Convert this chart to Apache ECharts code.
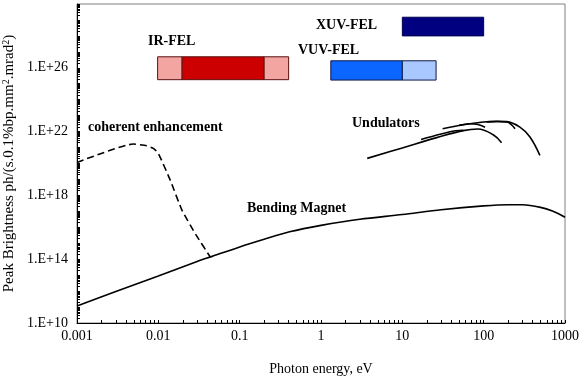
<!DOCTYPE html>
<html>
<head>
<meta charset="utf-8">
<script src="https://cdn.jsdelivr.net/npm/echarts@6/dist/echarts.min.js"></script>
<style>
html,body{margin:0;padding:0;background:#fff;}
#chart{width:579px;height:376px;}
</style>
</head>
<body>
<div id="chart"></div>
<script>
// ---- Data ----
// Bending magnet curve: photon energy (eV) / peak brightness
const bmEnergy = [0.001, 0.003, 0.01, 0.03, 0.045, 0.1, 0.2, 0.41, 1, 3, 10, 30, 100, 200, 300, 500, 700, 1000];
const bmBright = [1.17e11, 9.3e11, 8.9e12, 7.1e13, 1.45e14, 5.9e14, 1.78e15, 5.2e15, 1.32e16, 3.2e16, 6.3e16, 1.26e17, 2.2e17, 2.6e17, 2.57e17, 1.78e17, 1.05e17, 4.3e16];

// Coherent enhancement (dashed)
const cohEnergy = [0.001, 0.0049, 0.0072, 0.0087, 0.01, 0.014, 0.0195, 0.0292, 0.0434];
const cohBright = [1.17e20, 1.66e21, 1.29e21, 8.9e20, 4.3e20, 9.1e18, 1.2e17, 3.2e15, 1.41e14];

// Undulator tuning curves
const und1Energy = [3.7, 10, 26.5, 56, 85, 131, 166];
const und1Bright = [2.1e20, 9.5e20, 4.2e21, 1.15e22, 1.45e22, 6.3e21, 2.0e21];
const und2Energy = [31.3, 56, 99, 144, 192, 279, 371, 491];
const und2Bright = [1.51e22, 2.7e22, 4.0e22, 4.4e22, 4.2e22, 1.9e22, 4.6e21, 3.2e20];
const und3Energy = [50, 68, 85, 104];
const und3Bright = [2.45e22, 3.1e22, 2.75e22, 1.9e22];
const und4Energy = [110, 150, 192, 243];
const und4Bright = [4.1e22, 4.3e22, 4.0e22, 1.5e22];
const und5Energy = [17, 30, 45, 56];
const und5Bright = [3.2e21, 7.1e21, 1.12e22, 1.2e22];

// FEL ranges (boxes)
const segStart = [0.0098, 0.0196, 0.2, 1.32, 10, 10];
const segEnd   = [0.0196, 0.2, 0.4, 10, 26, 100];
const segLow   = [1.8e25, 1.8e25, 1.8e25, 1.7e25, 1.7e25, 1.0e28];
const segHigh  = [4.9e26, 4.9e26, 4.9e26, 2.75e26, 2.75e26, 1.48e29];
const segColor = ['#f3a6a1', '#cc0000', '#f3a6a1', '#0a66ff', '#a8c8ff', '#000080'];
const segBorder = ['#5a1010', '#5a1010', '#5a1010', '#101848', '#101848', '#000050'];

// Tick labels
const xLabelValues = [0.001, 0.01, 0.1, 1, 10, 100, 1000];
const xLabels = ['0.001', '0.01', '0.1', '1', '10', '100', '1000'];
const yLabelValues = [1e10, 1e14, 1e18, 1e22, 1e26, 1e30];
const yLabels = ['1.E+10', '1.E+14', '1.E+18', '1.E+22', '1.E+26', '1.E+30'];

// Annotation texts
const annTexts = ['IR-FEL', 'XUV-FEL', 'VUV-FEL', 'Undulators', 'coherent enhancement', 'Bending Magnet'];

// ---- Build ----
function zip(a, b) { return a.map((v, i) => [v, b[i]]); }
function minorTicks(lo, hi) {
  const out = [];
  for (let e = lo; e < hi; e++) {
    for (let k = 1; k <= 9; k++) out.push(+(k * Math.pow(10, e)).toPrecision(3));
  }
  out.push(Math.pow(10, hi));
  return out;
}
function labelFor(vals, labels) {
  return function (v) {
    for (let i = 0; i < vals.length; i++) {
      if (Math.abs(Math.log10(v) - Math.log10(vals[i])) < 1e-6) return labels[i];
    }
    return '';
  };
}

const SERIF = '"Liberation Serif", "Times New Roman", serif';
const chart = echarts.init(document.getElementById('chart'), null, { renderer: 'canvas' });

const lineStyleSolid = { color: '#000', width: 1.6 };

const option = {
  animation: false,
  backgroundColor: '#fff',
  grid: { left: 77, right: 14, top: 4, bottom: 53, containLabel: false, outerBoundsMode: 'none', show: true, borderColor: '#808080', borderWidth: 1, backgroundColor: 'transparent' },
  xAxis: {
    type: 'log', logBase: 10, min: 0.001, max: 1000,
    axisLine: { onZero: false, lineStyle: { color: '#000', width: 1 } },
    axisTick: { inside: true, length: 3, customValues: minorTicks(-3, 3), lineStyle: { color: '#000' } },
    axisLabel: { customValues: xLabelValues, formatter: labelFor(xLabelValues, xLabels), fontFamily: SERIF, fontSize: 14, color: '#000', margin: 6, hideOverlap: false },
    splitLine: { show: false },
    minorTick: { show: false },
    name: 'Photon energy, eV', nameLocation: 'middle', nameGap: 39,
    nameTextStyle: { fontFamily: SERIF, fontSize: 14, color: '#000' }
  },
  yAxis: {
    type: 'log', logBase: 10, min: 1e10, max: 1e30,
    axisLine: { onZero: false, lineStyle: { color: '#000', width: 1 } },
    axisTick: { inside: true, length: 3, customValues: minorTicks(10, 30), lineStyle: { color: '#000' } },
    axisLabel: { customValues: yLabelValues, formatter: labelFor(yLabelValues, yLabels), fontFamily: SERIF, fontSize: 14, color: '#000', margin: 9, hideOverlap: false },
    splitLine: { show: false },
    name: 'Peak Brightness ph/(s.0.1%bp.mm{sup|2}.mrad{sup|2})',
    nameLocation: 'middle', nameGap: 51,
    nameTextStyle: {
      fontFamily: SERIF, fontSize: 15, color: '#000',
      rich: { sup: { fontFamily: SERIF, fontSize: 10, color: '#000', verticalAlign: 'top', lineHeight: 15 } }
    }
  },
  series: [
    {
      name: 'FEL', type: 'custom', z: 3,
      data: segStart.map((s, i) => [s, segEnd[i], segLow[i], segHigh[i], i]),
      encode: { x: [0, 1], y: [2, 3] },
      renderItem: function (params, api) {
        const i = api.value(4);
        const p0 = api.coord([api.value(0), api.value(3)]);
        const p1 = api.coord([api.value(1), api.value(2)]);
        return {
          type: 'rect',
          shape: { x: p0[0], y: p0[1], width: p1[0] - p0[0], height: p1[1] - p0[1] },
          style: { fill: segColor[i], stroke: segBorder[i], lineWidth: 1 }
        };
      }
    },
    { name: 'Bending Magnet', type: 'line', data: zip(bmEnergy, bmBright), showSymbol: false, smooth: 0.3, lineStyle: lineStyleSolid },
    { name: 'coherent enhancement', type: 'line', data: zip(cohEnergy, cohBright), showSymbol: false, smooth: 0.15, lineStyle: { color: '#000', width: 1.6, type: [7, 4] } },
    { name: 'Undulator 1', type: 'line', data: zip(und1Energy, und1Bright), showSymbol: false, smooth: 0.4, lineStyle: lineStyleSolid },
    { name: 'Undulator 2', type: 'line', data: zip(und2Energy, und2Bright), showSymbol: false, smooth: 0.4, lineStyle: lineStyleSolid },
    { name: 'Undulator 3', type: 'line', data: zip(und3Energy, und3Bright), showSymbol: false, smooth: 0.4, lineStyle: lineStyleSolid },
    { name: 'Undulator 4', type: 'line', data: zip(und4Energy, und4Bright), showSymbol: false, smooth: 0.4, lineStyle: lineStyleSolid },
    { name: 'Undulator 5', type: 'line', data: zip(und5Energy, und5Bright), showSymbol: false, smooth: 0.4, lineStyle: lineStyleSolid }
  ],
  graphic: [
    { type: 'text', x: 148, y: 41, style: { text: annTexts[0], font: 'bold 14px ' + SERIF, fill: '#000', verticalAlign: 'middle' } },
    { type: 'text', x: 316, y: 25, style: { text: annTexts[1], font: 'bold 14px ' + SERIF, fill: '#000', verticalAlign: 'middle' } },
    { type: 'text', x: 298, y: 50, style: { text: annTexts[2], font: 'bold 14px ' + SERIF, fill: '#000', verticalAlign: 'middle' } },
    { type: 'text', x: 352, y: 123, style: { text: annTexts[3], font: 'bold 14px ' + SERIF, fill: '#000', verticalAlign: 'middle' } },
    { type: 'text', x: 88, y: 127, style: { text: annTexts[4], font: 'bold 14px ' + SERIF, fill: '#000', verticalAlign: 'middle' } },
    { type: 'text', x: 247, y: 208, style: { text: annTexts[5], font: 'bold 14px ' + SERIF, fill: '#000', verticalAlign: 'middle' } }
  ]
};
chart.setOption(option);
</script>
</body>
</html>
